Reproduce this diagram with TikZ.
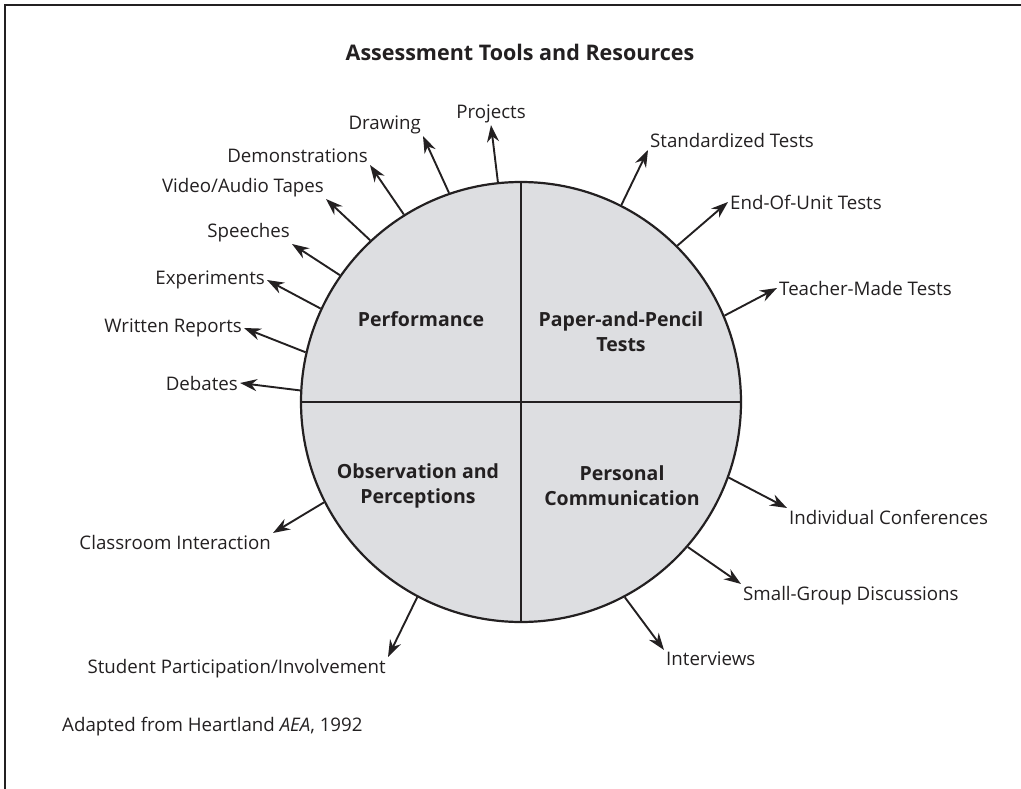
\documentclass[tikz,border=0pt]{standalone}
\usepackage{fontspec}
\setmainfont{Open Sans}
\usetikzlibrary{arrows.meta}

\definecolor{quadfill}{RGB}{221,222,225}
\definecolor{inkgray}{RGB}{35,32,33}

\begin{document}
\begin{tikzpicture} [
    x=1pt, y=-1pt,               % pixel-like units, y grows downwards
    font=\fontsize{18.7}{25}\selectfont,
    ]
% -------------------------------------------------
\tikzset{
  frame/.style={draw=inkgray, line width=2pt},
  wheel/.style={draw=inkgray, circle, line width=2.2pt, fill=quadfill, minimum size=440pt, inner sep=0pt},
  divider/.style={draw=inkgray, line width=2pt},
  quad/.style={align=center, text=inkgray, font=\fontsize{19.5}{25}\selectfont\bfseries},
  lbl/.style={text=inkgray, inner sep=2pt},
  line/.style={draw=inkgray, line width=1.9pt, -{Stealth[length=17pt,width=12pt]}}
}

    \useasboundingbox (0,0) rectangle (1021,789);
    \draw[frame] (1021,5) -- (5,5) -- (5,789);                     % page frame, open at right and bottom

    \node [quad, font=\fontsize{21.5}{25}\selectfont\bfseries] (ttl) at (520,52) {Assessment Tools and Resources};

    \node [wheel] (whl) at (521,402) {};
    \draw[divider] (whl.north) -- (whl.south);                     % vertical split
    \draw[divider] (whl.west) -- (whl.east);                       % horizontal split

    \node [quad] (prf) at (421,319) {Performance};
    \node [quad] (ppt) at (621,332) {Paper-and-Pencil\\Tests};
    \node [quad] (obs) at (418,486) {Observation and\\Perceptions};
    \node [quad] (pcm) at (622,486) {Personal\\Communication};

    % performance side
    \node [lbl, anchor=south] (prj) at (491,125) {Projects};
    \node [lbl, anchor=south east] (drw) at (423,136) {Drawing};
    \node [lbl, anchor=south east] (dem) at (370,165) {Demonstrations};
    \node [lbl, anchor=south east] (vid) at (326,199) {Video/Audio Tapes};
    \node [lbl, anchor=south east] (spc) at (292,244) {Speeches};
    \node [lbl, anchor=east] (exp) at (267,280) {Experiments};
    \node [lbl, anchor=east] (wrp) at (244,328) {Written Reports};
    \node [lbl, anchor=east] (deb) at (240,383) {Debates};

    % paper-and-pencil side
    \node [lbl, anchor=south west] (std) at (648,150) {Standardized Tests};
    \node [lbl, anchor=west] (eou) at (728,202) {End-Of-Unit Tests};
    \node [lbl, anchor=west] (tmt) at (777,288) {Teacher-Made Tests};

    % personal communication side
    \node [lbl, anchor=north west] (ind) at (787,508) {Individual Conferences};
    \node [lbl, anchor=north west] (sgd) at (741,584) {Small-Group Discussions};
    \node [lbl, anchor=north west] (itv) at (664,650) {Interviews};

    % observation side
    \node [lbl, anchor=north east] (cls) at (273,533) {Classroom Interaction};
    \node [lbl, anchor=north east] (stp) at (388,657) {Student Participation/Involvement};

    \node [lbl, anchor=west] (src) at (60,727) {Adapted from Heartland \textit{AEA}, 1992};

    \path [line] (whl.96.7) -- (prj.south);
    \path [line] (whl.109.1) -- (drw.south east);
    \path [line] (whl.122) -- (dem.south east);
    \path [line] (whl.133.2) -- (vid.south east);
    \path [line] (whl.145) -- (spc.south east);
    \path [line] (whl.155.9) -- (exp.east);
    \path [line] (whl.167.9) -- (wrp.east);
    \path [line] (whl.177.6) -- (deb.east);
    \path [line] (whl.63.3) -- (std.south west);
    \path [line] (whl.45.2) -- (eou.west);
    \path [line] (whl.23.8) -- (tmt.west);
    \path [line] (whl.-20) -- (ind.north west);
    \path [line] (whl.-41.2) -- (sgd.north west);
    \path [line] (whl.-62.2) -- (itv.north west);
    \path [line] (whl.207) -- (cls.north east);
    \path [line] (whl.242.3) -- (stp.north east);

\end{tikzpicture}
\end{document}
